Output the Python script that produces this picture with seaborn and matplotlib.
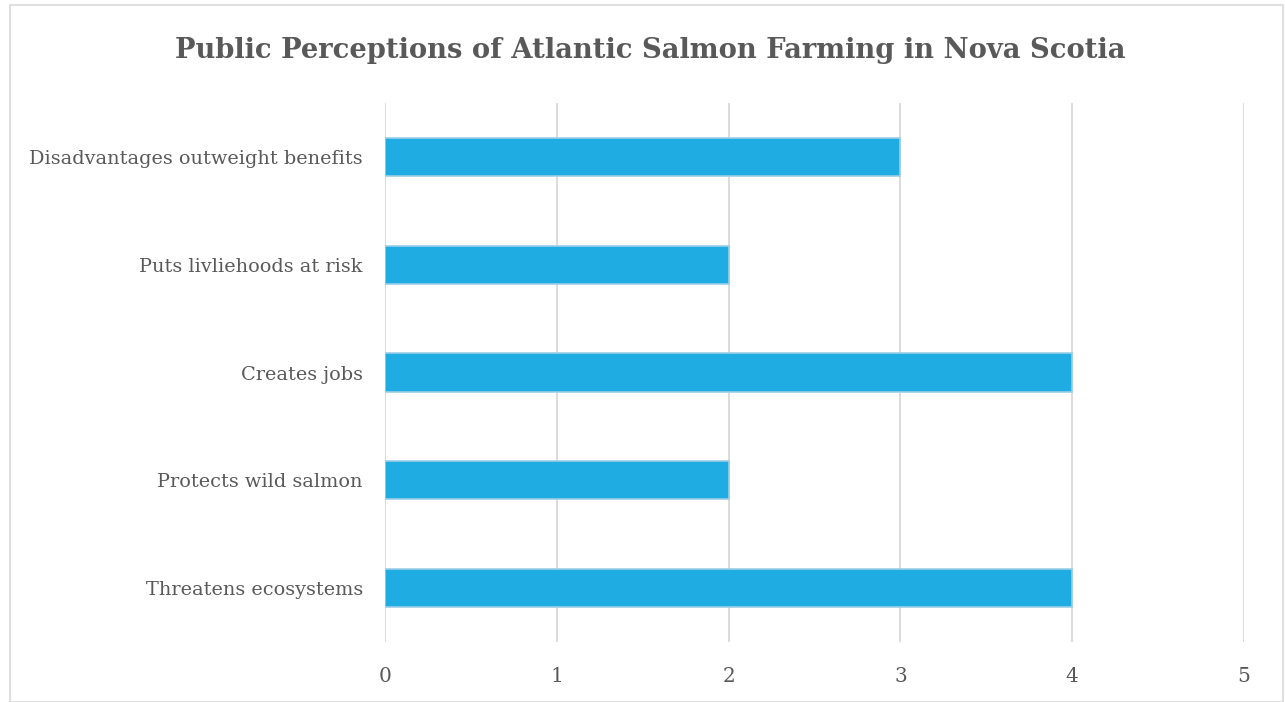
import matplotlib
matplotlib.use("Agg")
import matplotlib.pyplot as plt
import seaborn as sns
import pandas as pd

categories = ["Disadvantages outweight benefits", "Puts livliehoods at risk",
              "Creates jobs", "Protects wild salmon", "Threatens ecosystems"]
counts = [3, 2, 4, 2, 4]
xticks = [0, 1, 2, 3, 4, 5]

df = pd.DataFrame({"perception": categories, "count": counts})

sns.set_theme(style="white")
plt.rcParams["font.family"] = ["DejaVu Serif"]
text_col = "#595959"

fig = plt.figure(figsize=(12.85, 7.02), dpi=100)
ax = fig.add_axes([385 / 1285, 1 - 642 / 702, (1244 - 385) / 1285, (642 - 103) / 702])

sns.barplot(data=df, x="count", y="perception", order=categories, orient="h",
            color="#1EACE2", width=0.355, edgecolor="#9DCDE8", linewidth=1.2,
            saturation=1, ax=ax)

ax.set_xlim(0, 5)
ax.set_xticks(xticks)
ax.grid(axis="x", color="#D9D9D9", linewidth=1.3)
ax.set_axisbelow(True)
for s in ax.spines.values():
    s.set_visible(False)
ax.tick_params(axis="x", length=0, pad=18, labelsize=14.5, labelcolor=text_col)
ax.tick_params(axis="y", length=0, pad=16, labelsize=13.9, labelcolor=text_col)
ax.set_xlabel("")
ax.set_ylabel("")

fig.text(650 / 1285, 1 - 50 / 702, "Public Perceptions of Atlantic Salmon Farming in Nova Scotia",
         ha="center", va="center", fontsize=19.7, fontweight="bold", color=text_col)

fig.patches.append(plt.Rectangle((10 / 1285, 0), 1 - 10 / 1285 - 2 / 1285, 1 - 5 / 702,
                                 transform=fig.transFigure, fill=False,
                                 edgecolor="#D9D9D9", linewidth=1.2))

fig.savefig("out.png", dpi=100, facecolor="white")
